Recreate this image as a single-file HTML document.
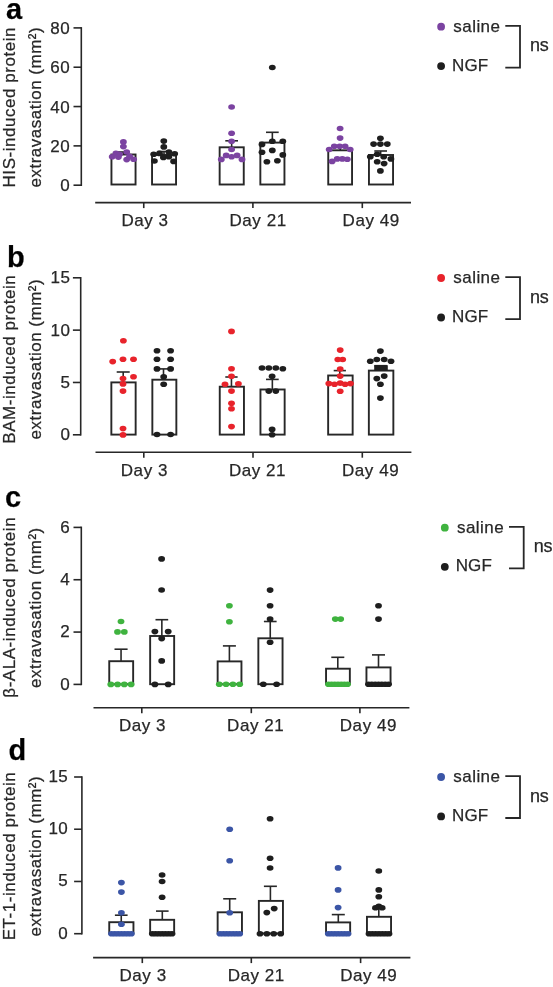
<!DOCTYPE html>
<html><head><meta charset="utf-8"><style>
html,body{margin:0;padding:0;background:#fff;overflow:hidden;}
svg{display:block;}
#w{width:553px;height:987px;will-change:transform;}
text{font-family:"Liberation Sans", sans-serif;fill:#272727;stroke:#272727;stroke-width:0.25px;}
</style></head><body><div id="w">
<svg width="553" height="987" viewBox="0 0 553 987">
<text x="6" y="18.5" font-size="29" font-weight="bold" style="fill:#000">a</text>
<text transform="translate(14.5,107.20) rotate(-90)" text-anchor="middle" font-size="17" letter-spacing="0.54">HIS-induced protein</text>
<text transform="translate(40.7,107.20) rotate(-90)" text-anchor="middle" font-size="17" letter-spacing="0.5">extravasation (mm²)</text>
<line x1="81.3" y1="27.099999999999998" x2="81.3" y2="186.0" stroke="#272727" stroke-width="1.6"/>
<line x1="73.5" y1="185.20" x2="81.3" y2="185.20" stroke="#272727" stroke-width="1.6"/>
<text x="70.00" y="191.30" text-anchor="end" font-size="17" letter-spacing="0.4">0</text>
<line x1="73.5" y1="145.88" x2="81.3" y2="145.88" stroke="#272727" stroke-width="1.6"/>
<text x="70.00" y="151.97" text-anchor="end" font-size="17" letter-spacing="0.4">20</text>
<line x1="73.5" y1="106.55" x2="81.3" y2="106.55" stroke="#272727" stroke-width="1.6"/>
<text x="70.00" y="112.65" text-anchor="end" font-size="17" letter-spacing="0.4">40</text>
<line x1="73.5" y1="67.23" x2="81.3" y2="67.23" stroke="#272727" stroke-width="1.6"/>
<text x="70.00" y="73.33" text-anchor="end" font-size="17" letter-spacing="0.4">60</text>
<line x1="73.5" y1="27.90" x2="81.3" y2="27.90" stroke="#272727" stroke-width="1.6"/>
<text x="70.00" y="34.00" text-anchor="end" font-size="17" letter-spacing="0.4">80</text>
<line x1="95.2" y1="202.6" x2="411" y2="202.6" stroke="#272727" stroke-width="1.6"/>
<line x1="143.75" y1="202.6" x2="143.75" y2="208.1" stroke="#272727" stroke-width="1.6"/>
<text x="121.4" y="226.2" font-size="17" letter-spacing="0.55">Day 3</text>
<line x1="252.9" y1="202.6" x2="252.9" y2="208.1" stroke="#272727" stroke-width="1.6"/>
<text x="229.5" y="226.2" font-size="17" letter-spacing="0.55">Day 21</text>
<line x1="362.3" y1="202.6" x2="362.3" y2="208.1" stroke="#272727" stroke-width="1.6"/>
<text x="342.6" y="226.2" font-size="17" letter-spacing="0.55">Day 49</text>
<line x1="123.50" y1="154.5" x2="123.50" y2="152.0" stroke="#272727" stroke-width="1.6"/>
<line x1="117.0" y1="152.0" x2="130.0" y2="152.0" stroke="#272727" stroke-width="1.6"/>
<rect x="111.45" y="154.50" width="24.10" height="30.00" fill="none" stroke="#272727" stroke-width="1.9"/>
<line x1="164.00" y1="154.8" x2="164.00" y2="151.5" stroke="#272727" stroke-width="1.6"/>
<line x1="157.5" y1="151.5" x2="170.5" y2="151.5" stroke="#272727" stroke-width="1.6"/>
<rect x="152.05" y="154.80" width="24.00" height="29.70" fill="none" stroke="#272727" stroke-width="1.9"/>
<line x1="231.65" y1="147.3" x2="231.65" y2="140.8" stroke="#272727" stroke-width="1.6"/>
<line x1="225.3" y1="140.8" x2="238.0" y2="140.8" stroke="#272727" stroke-width="1.6"/>
<rect x="219.65" y="147.30" width="24.10" height="37.20" fill="none" stroke="#272727" stroke-width="1.9"/>
<line x1="272.35" y1="142.6" x2="272.35" y2="132.3" stroke="#272727" stroke-width="1.6"/>
<line x1="266.0" y1="132.3" x2="278.7" y2="132.3" stroke="#272727" stroke-width="1.6"/>
<rect x="260.35" y="142.60" width="24.10" height="41.90" fill="none" stroke="#272727" stroke-width="1.9"/>
<line x1="340.25" y1="150.3" x2="340.25" y2="146.0" stroke="#272727" stroke-width="1.6"/>
<line x1="334.0" y1="146.0" x2="346.5" y2="146.0" stroke="#272727" stroke-width="1.6"/>
<rect x="328.25" y="150.30" width="23.80" height="34.20" fill="none" stroke="#272727" stroke-width="1.9"/>
<line x1="380.65" y1="155.0" x2="380.65" y2="151.0" stroke="#272727" stroke-width="1.6"/>
<line x1="374.3" y1="151.0" x2="387.0" y2="151.0" stroke="#272727" stroke-width="1.6"/>
<rect x="368.95" y="155.00" width="24.10" height="29.50" fill="none" stroke="#272727" stroke-width="1.9"/>
<ellipse cx="123.4" cy="141.9" rx="3.4" ry="2.8" fill="#7b43a1"/>
<ellipse cx="123.4" cy="146.6" rx="3.4" ry="2.8" fill="#7b43a1"/>
<ellipse cx="126.7" cy="152.0" rx="3.4" ry="2.8" fill="#7b43a1"/>
<ellipse cx="115.9" cy="153.4" rx="3.4" ry="2.8" fill="#7b43a1"/>
<ellipse cx="119.5" cy="154.2" rx="3.4" ry="2.8" fill="#7b43a1"/>
<ellipse cx="112.2" cy="156.7" rx="3.4" ry="2.8" fill="#7b43a1"/>
<ellipse cx="118.4" cy="157.1" rx="3.4" ry="2.8" fill="#7b43a1"/>
<ellipse cx="126.7" cy="159.6" rx="3.4" ry="2.8" fill="#7b43a1"/>
<ellipse cx="129.6" cy="156.3" rx="3.4" ry="2.8" fill="#7b43a1"/>
<ellipse cx="133.6" cy="159.2" rx="3.4" ry="2.8" fill="#7b43a1"/>
<ellipse cx="163.8" cy="141.1" rx="3.4" ry="2.8" fill="#1e1e1e"/>
<ellipse cx="163.8" cy="146.9" rx="3.4" ry="2.8" fill="#1e1e1e"/>
<ellipse cx="153.7" cy="154.2" rx="3.4" ry="2.8" fill="#1e1e1e"/>
<ellipse cx="159.5" cy="153.4" rx="3.4" ry="2.8" fill="#1e1e1e"/>
<ellipse cx="168.9" cy="152.0" rx="3.4" ry="2.8" fill="#1e1e1e"/>
<ellipse cx="174.7" cy="153.8" rx="3.4" ry="2.8" fill="#1e1e1e"/>
<ellipse cx="163.4" cy="157.4" rx="3.4" ry="2.8" fill="#1e1e1e"/>
<ellipse cx="168.9" cy="156.7" rx="3.4" ry="2.8" fill="#1e1e1e"/>
<ellipse cx="154.4" cy="161.0" rx="3.4" ry="2.8" fill="#1e1e1e"/>
<ellipse cx="173.6" cy="161.4" rx="3.4" ry="2.8" fill="#1e1e1e"/>
<ellipse cx="231.6" cy="107.0" rx="3.4" ry="2.8" fill="#7b43a1"/>
<ellipse cx="231.6" cy="133.2" rx="3.4" ry="2.8" fill="#7b43a1"/>
<ellipse cx="231.6" cy="141.3" rx="3.4" ry="2.8" fill="#7b43a1"/>
<ellipse cx="231.6" cy="149.5" rx="3.4" ry="2.8" fill="#7b43a1"/>
<ellipse cx="226.2" cy="155.4" rx="3.4" ry="2.8" fill="#7b43a1"/>
<ellipse cx="231.6" cy="156.7" rx="3.4" ry="2.8" fill="#7b43a1"/>
<ellipse cx="237.1" cy="155.4" rx="3.4" ry="2.8" fill="#7b43a1"/>
<ellipse cx="221.3" cy="159.4" rx="3.4" ry="2.8" fill="#7b43a1"/>
<ellipse cx="242.0" cy="159.4" rx="3.4" ry="2.8" fill="#7b43a1"/>
<ellipse cx="272.3" cy="67.5" rx="3.4" ry="2.8" fill="#1e1e1e"/>
<ellipse cx="272.3" cy="141.3" rx="3.4" ry="2.8" fill="#1e1e1e"/>
<ellipse cx="282.8" cy="141.3" rx="3.4" ry="2.8" fill="#1e1e1e"/>
<ellipse cx="262.0" cy="144.4" rx="3.4" ry="2.8" fill="#1e1e1e"/>
<ellipse cx="272.3" cy="150.4" rx="3.4" ry="2.8" fill="#1e1e1e"/>
<ellipse cx="262.0" cy="152.2" rx="3.4" ry="2.8" fill="#1e1e1e"/>
<ellipse cx="282.8" cy="154.9" rx="3.4" ry="2.8" fill="#1e1e1e"/>
<ellipse cx="266.9" cy="161.8" rx="3.4" ry="2.8" fill="#1e1e1e"/>
<ellipse cx="277.4" cy="160.7" rx="3.4" ry="2.8" fill="#1e1e1e"/>
<ellipse cx="340.1" cy="128.5" rx="3.4" ry="2.8" fill="#7b43a1"/>
<ellipse cx="340.1" cy="138.1" rx="3.4" ry="2.8" fill="#7b43a1"/>
<ellipse cx="334.3" cy="146.2" rx="3.4" ry="2.8" fill="#7b43a1"/>
<ellipse cx="339.7" cy="146.2" rx="3.4" ry="2.8" fill="#7b43a1"/>
<ellipse cx="345.1" cy="146.2" rx="3.4" ry="2.8" fill="#7b43a1"/>
<ellipse cx="329.2" cy="149.5" rx="3.4" ry="2.8" fill="#7b43a1"/>
<ellipse cx="350.2" cy="149.5" rx="3.4" ry="2.8" fill="#7b43a1"/>
<ellipse cx="332.1" cy="161.4" rx="3.4" ry="2.8" fill="#7b43a1"/>
<ellipse cx="337.2" cy="158.9" rx="3.4" ry="2.8" fill="#7b43a1"/>
<ellipse cx="342.3" cy="158.9" rx="3.4" ry="2.8" fill="#7b43a1"/>
<ellipse cx="347.3" cy="159.3" rx="3.4" ry="2.8" fill="#7b43a1"/>
<ellipse cx="380.4" cy="138.3" rx="3.4" ry="2.8" fill="#1e1e1e"/>
<ellipse cx="373.6" cy="144.1" rx="3.4" ry="2.8" fill="#1e1e1e"/>
<ellipse cx="380.4" cy="144.1" rx="3.4" ry="2.8" fill="#1e1e1e"/>
<ellipse cx="387.3" cy="144.1" rx="3.4" ry="2.8" fill="#1e1e1e"/>
<ellipse cx="377.2" cy="154.2" rx="3.4" ry="2.8" fill="#1e1e1e"/>
<ellipse cx="370.3" cy="156.8" rx="3.4" ry="2.8" fill="#1e1e1e"/>
<ellipse cx="383.7" cy="156.8" rx="3.4" ry="2.8" fill="#1e1e1e"/>
<ellipse cx="390.9" cy="158.9" rx="3.4" ry="2.8" fill="#1e1e1e"/>
<ellipse cx="377.2" cy="161.8" rx="3.4" ry="2.8" fill="#1e1e1e"/>
<ellipse cx="384.1" cy="163.6" rx="3.4" ry="2.8" fill="#1e1e1e"/>
<ellipse cx="380.4" cy="170.9" rx="3.4" ry="2.8" fill="#1e1e1e"/>
<circle cx="441.1" cy="26.7" r="3.9" fill="#7b43a1"/>
<circle cx="441.1" cy="66.1" r="3.9" fill="#1e1e1e"/>
<text x="453.3" y="31.5" font-size="17" letter-spacing="0.45">saline</text>
<text x="452.0" y="70.5" font-size="17" letter-spacing="0.1">NGF</text>
<path d="M505.3 25.8 H520.0 V67.69999999999999 H505.3" fill="none" stroke="#272727" stroke-width="1.8"/>
<text x="530.0" y="51.3" font-size="18" letter-spacing="-0.2">ns</text>
<text x="7" y="266.5" font-size="29" font-weight="bold" style="fill:#000">b</text>
<text transform="translate(14.5,359.15) rotate(-90)" text-anchor="middle" font-size="17" letter-spacing="0.54">BAM-induced protein</text>
<text transform="translate(40.7,359.15) rotate(-90)" text-anchor="middle" font-size="17" letter-spacing="0.5">extravasation (mm²)</text>
<line x1="80.7" y1="277.0" x2="80.7" y2="435.6" stroke="#272727" stroke-width="1.6"/>
<line x1="72.9" y1="434.80" x2="80.7" y2="434.80" stroke="#272727" stroke-width="1.6"/>
<text x="70.30" y="440.30" text-anchor="end" font-size="17" letter-spacing="0.4">0</text>
<line x1="72.9" y1="382.47" x2="80.7" y2="382.47" stroke="#272727" stroke-width="1.6"/>
<text x="70.30" y="387.97" text-anchor="end" font-size="17" letter-spacing="0.4">5</text>
<line x1="72.9" y1="330.13" x2="80.7" y2="330.13" stroke="#272727" stroke-width="1.6"/>
<text x="70.30" y="335.63" text-anchor="end" font-size="17" letter-spacing="0.4">10</text>
<line x1="72.9" y1="277.80" x2="80.7" y2="277.80" stroke="#272727" stroke-width="1.6"/>
<text x="70.30" y="283.30" text-anchor="end" font-size="17" letter-spacing="0.4">15</text>
<line x1="95.5" y1="452.2" x2="411.4" y2="452.2" stroke="#272727" stroke-width="1.6"/>
<line x1="143.8" y1="452.2" x2="143.8" y2="457.7" stroke="#272727" stroke-width="1.6"/>
<text x="120.8" y="475.8" font-size="17" letter-spacing="0.55">Day 3</text>
<line x1="253" y1="452.2" x2="253" y2="457.7" stroke="#272727" stroke-width="1.6"/>
<text x="228.9" y="475.8" font-size="17" letter-spacing="0.55">Day 21</text>
<line x1="362.3" y1="452.2" x2="362.3" y2="457.7" stroke="#272727" stroke-width="1.6"/>
<text x="342.0" y="475.8" font-size="17" letter-spacing="0.55">Day 49</text>
<line x1="123.20" y1="382.4" x2="123.20" y2="372.0" stroke="#272727" stroke-width="1.6"/>
<line x1="116.7" y1="372.0" x2="129.7" y2="372.0" stroke="#272727" stroke-width="1.6"/>
<rect x="111.35" y="382.40" width="24.30" height="52.20" fill="none" stroke="#272727" stroke-width="1.9"/>
<line x1="163.50" y1="379.7" x2="163.50" y2="368.9" stroke="#272727" stroke-width="1.6"/>
<line x1="157.0" y1="368.9" x2="170.0" y2="368.9" stroke="#272727" stroke-width="1.6"/>
<rect x="152.35" y="379.70" width="24.00" height="54.90" fill="none" stroke="#272727" stroke-width="1.9"/>
<line x1="231.45" y1="386.7" x2="231.45" y2="377.0" stroke="#272727" stroke-width="1.6"/>
<line x1="225.3" y1="377.0" x2="237.6" y2="377.0" stroke="#272727" stroke-width="1.6"/>
<rect x="219.75" y="386.70" width="24.20" height="47.90" fill="none" stroke="#272727" stroke-width="1.9"/>
<line x1="272.35" y1="389.5" x2="272.35" y2="379.4" stroke="#272727" stroke-width="1.6"/>
<line x1="266.0" y1="379.4" x2="278.7" y2="379.4" stroke="#272727" stroke-width="1.6"/>
<rect x="260.45" y="389.50" width="24.20" height="45.10" fill="none" stroke="#272727" stroke-width="1.9"/>
<line x1="339.80" y1="375.5" x2="339.80" y2="370.6" stroke="#272727" stroke-width="1.6"/>
<line x1="333.7" y1="370.6" x2="345.9" y2="370.6" stroke="#272727" stroke-width="1.6"/>
<rect x="328.15" y="375.50" width="24.50" height="59.10" fill="none" stroke="#272727" stroke-width="1.9"/>
<line x1="380.65" y1="370.6" x2="380.65" y2="365.7" stroke="#272727" stroke-width="1.6"/>
<line x1="374.4" y1="365.7" x2="386.9" y2="365.7" stroke="#272727" stroke-width="1.6"/>
<rect x="368.85" y="370.60" width="24.50" height="64.00" fill="none" stroke="#272727" stroke-width="1.9"/>
<ellipse cx="123.4" cy="340.8" rx="3.4" ry="2.8" fill="#e8232b"/>
<ellipse cx="112.7" cy="361.6" rx="3.4" ry="2.8" fill="#e8232b"/>
<ellipse cx="123.0" cy="359.3" rx="3.4" ry="2.8" fill="#e8232b"/>
<ellipse cx="133.5" cy="359.3" rx="3.4" ry="2.8" fill="#e8232b"/>
<ellipse cx="133.5" cy="376.7" rx="3.4" ry="2.8" fill="#e8232b"/>
<ellipse cx="123.0" cy="378.5" rx="3.4" ry="2.8" fill="#e8232b"/>
<ellipse cx="123.0" cy="383.9" rx="3.4" ry="2.8" fill="#e8232b"/>
<ellipse cx="123.0" cy="391.1" rx="3.4" ry="2.8" fill="#e8232b"/>
<ellipse cx="123.0" cy="428.6" rx="3.4" ry="2.8" fill="#e8232b"/>
<ellipse cx="123.0" cy="434.9" rx="3.4" ry="2.8" fill="#e8232b"/>
<ellipse cx="157.0" cy="350.8" rx="3.4" ry="2.8" fill="#1e1e1e"/>
<ellipse cx="170.6" cy="350.8" rx="3.4" ry="2.8" fill="#1e1e1e"/>
<ellipse cx="157.0" cy="359.3" rx="3.4" ry="2.8" fill="#1e1e1e"/>
<ellipse cx="170.6" cy="359.3" rx="3.4" ry="2.8" fill="#1e1e1e"/>
<ellipse cx="157.0" cy="368.9" rx="3.4" ry="2.8" fill="#1e1e1e"/>
<ellipse cx="170.6" cy="368.9" rx="3.4" ry="2.8" fill="#1e1e1e"/>
<ellipse cx="163.7" cy="376.7" rx="3.4" ry="2.8" fill="#1e1e1e"/>
<ellipse cx="163.7" cy="384.2" rx="3.4" ry="2.8" fill="#1e1e1e"/>
<ellipse cx="157.0" cy="434.5" rx="3.4" ry="2.8" fill="#1e1e1e"/>
<ellipse cx="170.6" cy="434.5" rx="3.4" ry="2.8" fill="#1e1e1e"/>
<ellipse cx="231.5" cy="331.4" rx="3.4" ry="2.8" fill="#e8232b"/>
<ellipse cx="231.5" cy="368.8" rx="3.4" ry="2.8" fill="#e8232b"/>
<ellipse cx="231.5" cy="376.2" rx="3.4" ry="2.8" fill="#e8232b"/>
<ellipse cx="225.0" cy="384.3" rx="3.4" ry="2.8" fill="#e8232b"/>
<ellipse cx="238.4" cy="383.8" rx="3.4" ry="2.8" fill="#e8232b"/>
<ellipse cx="231.5" cy="391.1" rx="3.4" ry="2.8" fill="#e8232b"/>
<ellipse cx="231.5" cy="403.3" rx="3.4" ry="2.8" fill="#e8232b"/>
<ellipse cx="231.5" cy="408.7" rx="3.4" ry="2.8" fill="#e8232b"/>
<ellipse cx="231.5" cy="426.6" rx="3.4" ry="2.8" fill="#e8232b"/>
<ellipse cx="262.0" cy="368.0" rx="3.4" ry="2.8" fill="#1e1e1e"/>
<ellipse cx="268.8" cy="368.0" rx="3.4" ry="2.8" fill="#1e1e1e"/>
<ellipse cx="275.8" cy="368.0" rx="3.4" ry="2.8" fill="#1e1e1e"/>
<ellipse cx="282.8" cy="368.8" rx="3.4" ry="2.8" fill="#1e1e1e"/>
<ellipse cx="272.1" cy="376.2" rx="3.4" ry="2.8" fill="#1e1e1e"/>
<ellipse cx="268.8" cy="391.1" rx="3.4" ry="2.8" fill="#1e1e1e"/>
<ellipse cx="275.8" cy="391.1" rx="3.4" ry="2.8" fill="#1e1e1e"/>
<ellipse cx="272.1" cy="429.4" rx="3.4" ry="2.8" fill="#1e1e1e"/>
<ellipse cx="272.1" cy="434.7" rx="3.4" ry="2.8" fill="#1e1e1e"/>
<ellipse cx="340.2" cy="350.1" rx="3.4" ry="2.8" fill="#e8232b"/>
<ellipse cx="337.8" cy="359.5" rx="3.4" ry="2.8" fill="#e8232b"/>
<ellipse cx="342.7" cy="359.5" rx="3.4" ry="2.8" fill="#e8232b"/>
<ellipse cx="340.2" cy="369.0" rx="3.4" ry="2.8" fill="#e8232b"/>
<ellipse cx="340.2" cy="376.1" rx="3.4" ry="2.8" fill="#e8232b"/>
<ellipse cx="328.8" cy="383.6" rx="3.4" ry="2.8" fill="#e8232b"/>
<ellipse cx="334.5" cy="384.3" rx="3.4" ry="2.8" fill="#e8232b"/>
<ellipse cx="340.2" cy="383.1" rx="3.4" ry="2.8" fill="#e8232b"/>
<ellipse cx="345.1" cy="384.3" rx="3.4" ry="2.8" fill="#e8232b"/>
<ellipse cx="350.5" cy="383.6" rx="3.4" ry="2.8" fill="#e8232b"/>
<ellipse cx="340.2" cy="391.3" rx="3.4" ry="2.8" fill="#e8232b"/>
<ellipse cx="380.4" cy="351.1" rx="3.4" ry="2.8" fill="#1e1e1e"/>
<ellipse cx="370.3" cy="361.2" rx="3.4" ry="2.8" fill="#1e1e1e"/>
<ellipse cx="376.8" cy="359.5" rx="3.4" ry="2.8" fill="#1e1e1e"/>
<ellipse cx="384.2" cy="359.5" rx="3.4" ry="2.8" fill="#1e1e1e"/>
<ellipse cx="391.0" cy="361.2" rx="3.4" ry="2.8" fill="#1e1e1e"/>
<ellipse cx="376.8" cy="378.6" rx="3.4" ry="2.8" fill="#1e1e1e"/>
<ellipse cx="384.2" cy="376.1" rx="3.4" ry="2.8" fill="#1e1e1e"/>
<ellipse cx="380.4" cy="384.3" rx="3.4" ry="2.8" fill="#1e1e1e"/>
<ellipse cx="380.4" cy="398.1" rx="3.4" ry="2.8" fill="#1e1e1e"/>
<rect x="374.2" y="365.2" width="13.6" height="5.4" fill="#1e1e1e"/>
<circle cx="441.1" cy="278.0" r="3.9" fill="#e8232b"/>
<circle cx="441.1" cy="317.5" r="3.9" fill="#1e1e1e"/>
<text x="453.3" y="282.8" font-size="17" letter-spacing="0.45">saline</text>
<text x="452.0" y="321.9" font-size="17" letter-spacing="0.1">NGF</text>
<path d="M505.3 277.1 H520.0 V319.1 H505.3" fill="none" stroke="#272727" stroke-width="1.8"/>
<text x="530.0" y="302.6" font-size="18" letter-spacing="-0.2">ns</text>
<text x="5" y="506.5" font-size="29" font-weight="bold" style="fill:#000">c</text>
<text transform="translate(14.5,607.25) rotate(-90)" text-anchor="middle" font-size="17" letter-spacing="0.54">β-ALA-induced protein</text>
<text transform="translate(40.7,607.60) rotate(-90)" text-anchor="middle" font-size="17" letter-spacing="0.5">extravasation (mm²)</text>
<line x1="81.3" y1="526.6" x2="81.3" y2="685.1999999999999" stroke="#272727" stroke-width="1.6"/>
<line x1="73.5" y1="684.40" x2="81.3" y2="684.40" stroke="#272727" stroke-width="1.6"/>
<text x="70.00" y="689.70" text-anchor="end" font-size="17" letter-spacing="0.4">0</text>
<line x1="73.5" y1="632.07" x2="81.3" y2="632.07" stroke="#272727" stroke-width="1.6"/>
<text x="70.00" y="637.37" text-anchor="end" font-size="17" letter-spacing="0.4">2</text>
<line x1="73.5" y1="579.73" x2="81.3" y2="579.73" stroke="#272727" stroke-width="1.6"/>
<text x="70.00" y="585.03" text-anchor="end" font-size="17" letter-spacing="0.4">4</text>
<line x1="73.5" y1="527.40" x2="81.3" y2="527.40" stroke="#272727" stroke-width="1.6"/>
<text x="70.00" y="532.70" text-anchor="end" font-size="17" letter-spacing="0.4">6</text>
<line x1="93.5" y1="707.7" x2="409.4" y2="707.7" stroke="#272727" stroke-width="1.6"/>
<line x1="141.8" y1="707.7" x2="141.8" y2="713.2" stroke="#272727" stroke-width="1.6"/>
<text x="118.9" y="731.3000000000001" font-size="17" letter-spacing="0.55">Day 3</text>
<line x1="251.3" y1="707.7" x2="251.3" y2="713.2" stroke="#272727" stroke-width="1.6"/>
<text x="227.1" y="731.3000000000001" font-size="17" letter-spacing="0.55">Day 21</text>
<line x1="359.9" y1="707.7" x2="359.9" y2="713.2" stroke="#272727" stroke-width="1.6"/>
<text x="339.8" y="731.3000000000001" font-size="17" letter-spacing="0.55">Day 49</text>
<line x1="121.05" y1="661.2" x2="121.05" y2="649.2" stroke="#272727" stroke-width="1.6"/>
<line x1="114.5" y1="649.2" x2="127.6" y2="649.2" stroke="#272727" stroke-width="1.6"/>
<rect x="109.25" y="661.20" width="23.90" height="23.00" fill="none" stroke="#272727" stroke-width="1.9"/>
<line x1="161.85" y1="636.0" x2="161.85" y2="619.7" stroke="#272727" stroke-width="1.6"/>
<line x1="155.5" y1="619.7" x2="168.2" y2="619.7" stroke="#272727" stroke-width="1.6"/>
<rect x="150.15" y="636.00" width="24.00" height="48.20" fill="none" stroke="#272727" stroke-width="1.9"/>
<line x1="229.40" y1="661.4" x2="229.40" y2="645.9" stroke="#272727" stroke-width="1.6"/>
<line x1="222.9" y1="645.9" x2="235.9" y2="645.9" stroke="#272727" stroke-width="1.6"/>
<rect x="217.65" y="661.40" width="23.80" height="22.80" fill="none" stroke="#272727" stroke-width="1.9"/>
<line x1="270.25" y1="638.3" x2="270.25" y2="621.5" stroke="#272727" stroke-width="1.6"/>
<line x1="263.9" y1="621.5" x2="276.6" y2="621.5" stroke="#272727" stroke-width="1.6"/>
<rect x="258.35" y="638.30" width="24.20" height="45.90" fill="none" stroke="#272727" stroke-width="1.9"/>
<line x1="337.80" y1="668.7" x2="337.80" y2="657.3" stroke="#272727" stroke-width="1.6"/>
<line x1="331.3" y1="657.3" x2="344.3" y2="657.3" stroke="#272727" stroke-width="1.6"/>
<rect x="326.05" y="668.70" width="23.80" height="15.50" fill="none" stroke="#272727" stroke-width="1.9"/>
<line x1="378.50" y1="667.4" x2="378.50" y2="654.9" stroke="#272727" stroke-width="1.6"/>
<line x1="372.0" y1="654.9" x2="385.0" y2="654.9" stroke="#272727" stroke-width="1.6"/>
<rect x="366.45" y="667.40" width="24.10" height="16.80" fill="none" stroke="#272727" stroke-width="1.9"/>
<ellipse cx="121.0" cy="621.5" rx="3.4" ry="2.8" fill="#3fb33f"/>
<ellipse cx="117.5" cy="631.9" rx="3.4" ry="2.8" fill="#3fb33f"/>
<ellipse cx="124.3" cy="631.9" rx="3.4" ry="2.8" fill="#3fb33f"/>
<ellipse cx="110.8" cy="684.4" rx="3.4" ry="2.8" fill="#3fb33f"/>
<ellipse cx="117.6" cy="684.4" rx="3.4" ry="2.8" fill="#3fb33f"/>
<ellipse cx="124.3" cy="684.4" rx="3.4" ry="2.8" fill="#3fb33f"/>
<ellipse cx="131.1" cy="684.4" rx="3.4" ry="2.8" fill="#3fb33f"/>
<ellipse cx="161.6" cy="558.9" rx="3.4" ry="2.8" fill="#1e1e1e"/>
<ellipse cx="161.6" cy="590.0" rx="3.4" ry="2.8" fill="#1e1e1e"/>
<ellipse cx="154.9" cy="631.6" rx="3.4" ry="2.8" fill="#1e1e1e"/>
<ellipse cx="168.2" cy="631.6" rx="3.4" ry="2.8" fill="#1e1e1e"/>
<ellipse cx="161.7" cy="638.6" rx="3.4" ry="2.8" fill="#1e1e1e"/>
<ellipse cx="161.7" cy="660.9" rx="3.4" ry="2.8" fill="#1e1e1e"/>
<ellipse cx="154.9" cy="684.4" rx="3.4" ry="2.8" fill="#1e1e1e"/>
<ellipse cx="168.2" cy="684.4" rx="3.4" ry="2.8" fill="#1e1e1e"/>
<ellipse cx="229.4" cy="605.7" rx="3.4" ry="2.8" fill="#3fb33f"/>
<ellipse cx="229.4" cy="621.8" rx="3.4" ry="2.8" fill="#3fb33f"/>
<ellipse cx="219.3" cy="684.2" rx="3.4" ry="2.8" fill="#3fb33f"/>
<ellipse cx="226.1" cy="684.2" rx="3.4" ry="2.8" fill="#3fb33f"/>
<ellipse cx="232.9" cy="684.2" rx="3.4" ry="2.8" fill="#3fb33f"/>
<ellipse cx="239.7" cy="684.2" rx="3.4" ry="2.8" fill="#3fb33f"/>
<ellipse cx="270.1" cy="590.1" rx="3.4" ry="2.8" fill="#1e1e1e"/>
<ellipse cx="270.1" cy="605.7" rx="3.4" ry="2.8" fill="#1e1e1e"/>
<ellipse cx="270.1" cy="619.1" rx="3.4" ry="2.8" fill="#1e1e1e"/>
<ellipse cx="270.1" cy="642.3" rx="3.4" ry="2.8" fill="#1e1e1e"/>
<ellipse cx="263.3" cy="684.2" rx="3.4" ry="2.8" fill="#1e1e1e"/>
<ellipse cx="276.6" cy="684.2" rx="3.4" ry="2.8" fill="#1e1e1e"/>
<ellipse cx="335.3" cy="619.1" rx="3.4" ry="2.8" fill="#3fb33f"/>
<ellipse cx="340.7" cy="619.1" rx="3.4" ry="2.8" fill="#3fb33f"/>
<ellipse cx="328.5" cy="684.2" rx="3.4" ry="2.8" fill="#3fb33f"/>
<ellipse cx="331.7" cy="684.2" rx="3.4" ry="2.8" fill="#3fb33f"/>
<ellipse cx="334.8" cy="684.2" rx="3.4" ry="2.8" fill="#3fb33f"/>
<ellipse cx="338.0" cy="684.2" rx="3.4" ry="2.8" fill="#3fb33f"/>
<ellipse cx="341.2" cy="684.2" rx="3.4" ry="2.8" fill="#3fb33f"/>
<ellipse cx="344.3" cy="684.2" rx="3.4" ry="2.8" fill="#3fb33f"/>
<ellipse cx="347.5" cy="684.2" rx="3.4" ry="2.8" fill="#3fb33f"/>
<ellipse cx="378.5" cy="605.7" rx="3.4" ry="2.8" fill="#1e1e1e"/>
<ellipse cx="378.5" cy="619.1" rx="3.4" ry="2.8" fill="#1e1e1e"/>
<ellipse cx="368.5" cy="684.2" rx="3.4" ry="2.8" fill="#1e1e1e"/>
<ellipse cx="371.8" cy="684.2" rx="3.4" ry="2.8" fill="#1e1e1e"/>
<ellipse cx="375.2" cy="684.2" rx="3.4" ry="2.8" fill="#1e1e1e"/>
<ellipse cx="378.5" cy="684.2" rx="3.4" ry="2.8" fill="#1e1e1e"/>
<ellipse cx="381.8" cy="684.2" rx="3.4" ry="2.8" fill="#1e1e1e"/>
<ellipse cx="385.2" cy="684.2" rx="3.4" ry="2.8" fill="#1e1e1e"/>
<ellipse cx="388.5" cy="684.2" rx="3.4" ry="2.8" fill="#1e1e1e"/>
<circle cx="444.8" cy="527.7" r="3.9" fill="#3fb33f"/>
<circle cx="444.8" cy="566.8000000000001" r="3.9" fill="#1e1e1e"/>
<text x="457.0" y="532.5" font-size="17" letter-spacing="0.45">saline</text>
<text x="455.7" y="571.2" font-size="17" letter-spacing="0.1">NGF</text>
<path d="M509.0 526.8000000000001 H523.7 V568.4000000000001 H509.0" fill="none" stroke="#272727" stroke-width="1.8"/>
<text x="533.7" y="552.1" font-size="18" letter-spacing="-0.2">ns</text>
<text x="8.5" y="759.5" font-size="29" font-weight="bold" style="fill:#000">d</text>
<text transform="translate(14.5,856.05) rotate(-90)" text-anchor="middle" font-size="17" letter-spacing="0.54">ET-1-induced protein</text>
<text transform="translate(40.7,856.20) rotate(-90)" text-anchor="middle" font-size="17" letter-spacing="0.5">extravasation (mm²)</text>
<line x1="81.9" y1="776.2" x2="81.9" y2="934.5" stroke="#272727" stroke-width="1.6"/>
<line x1="74.10000000000001" y1="933.70" x2="81.9" y2="933.70" stroke="#272727" stroke-width="1.6"/>
<text x="68.20" y="938.60" text-anchor="end" font-size="17" letter-spacing="0.4">0</text>
<line x1="74.10000000000001" y1="881.47" x2="81.9" y2="881.47" stroke="#272727" stroke-width="1.6"/>
<text x="68.20" y="886.37" text-anchor="end" font-size="17" letter-spacing="0.4">5</text>
<line x1="74.10000000000001" y1="829.23" x2="81.9" y2="829.23" stroke="#272727" stroke-width="1.6"/>
<text x="68.20" y="834.13" text-anchor="end" font-size="17" letter-spacing="0.4">10</text>
<line x1="74.10000000000001" y1="777.00" x2="81.9" y2="777.00" stroke="#272727" stroke-width="1.6"/>
<text x="68.20" y="781.90" text-anchor="end" font-size="17" letter-spacing="0.4">15</text>
<line x1="93.1" y1="957.6" x2="410.4" y2="957.6" stroke="#272727" stroke-width="1.6"/>
<line x1="142.3" y1="957.6" x2="142.3" y2="963.1" stroke="#272727" stroke-width="1.6"/>
<text x="119.5" y="981.2" font-size="17" letter-spacing="0.55">Day 3</text>
<line x1="251.3" y1="957.6" x2="251.3" y2="963.1" stroke="#272727" stroke-width="1.6"/>
<text x="227.7" y="981.2" font-size="17" letter-spacing="0.55">Day 21</text>
<line x1="360.6" y1="957.6" x2="360.6" y2="963.1" stroke="#272727" stroke-width="1.6"/>
<text x="340.2" y="981.2" font-size="17" letter-spacing="0.55">Day 49</text>
<line x1="121.25" y1="922.2" x2="121.25" y2="915.2" stroke="#272727" stroke-width="1.6"/>
<line x1="114.9" y1="915.2" x2="127.6" y2="915.2" stroke="#272727" stroke-width="1.6"/>
<rect x="109.25" y="922.20" width="24.20" height="11.30" fill="none" stroke="#272727" stroke-width="1.9"/>
<line x1="162.30" y1="919.8" x2="162.30" y2="911.1" stroke="#272727" stroke-width="1.6"/>
<line x1="156.0" y1="911.1" x2="168.6" y2="911.1" stroke="#272727" stroke-width="1.6"/>
<rect x="150.15" y="919.80" width="24.00" height="13.70" fill="none" stroke="#272727" stroke-width="1.9"/>
<line x1="229.70" y1="912.3" x2="229.70" y2="898.8" stroke="#272727" stroke-width="1.6"/>
<line x1="223.2" y1="898.8" x2="236.2" y2="898.8" stroke="#272727" stroke-width="1.6"/>
<rect x="217.65" y="912.30" width="24.30" height="21.20" fill="none" stroke="#272727" stroke-width="1.9"/>
<line x1="270.40" y1="900.9" x2="270.40" y2="886.3" stroke="#272727" stroke-width="1.6"/>
<line x1="263.9" y1="886.3" x2="276.9" y2="886.3" stroke="#272727" stroke-width="1.6"/>
<rect x="258.85" y="900.90" width="24.10" height="32.60" fill="none" stroke="#272727" stroke-width="1.9"/>
<line x1="338.30" y1="922.4" x2="338.30" y2="914.6" stroke="#272727" stroke-width="1.6"/>
<line x1="331.8" y1="914.6" x2="344.8" y2="914.6" stroke="#272727" stroke-width="1.6"/>
<rect x="326.05" y="922.40" width="24.10" height="11.10" fill="none" stroke="#272727" stroke-width="1.9"/>
<line x1="378.80" y1="916.8" x2="378.80" y2="908.6" stroke="#272727" stroke-width="1.6"/>
<line x1="372.3" y1="908.6" x2="385.3" y2="908.6" stroke="#272727" stroke-width="1.6"/>
<rect x="366.95" y="916.80" width="24.10" height="16.70" fill="none" stroke="#272727" stroke-width="1.9"/>
<ellipse cx="121.4" cy="882.6" rx="3.4" ry="2.8" fill="#3b55a6"/>
<ellipse cx="121.4" cy="892.1" rx="3.4" ry="2.8" fill="#3b55a6"/>
<ellipse cx="121.4" cy="912.8" rx="3.4" ry="2.8" fill="#3b55a6"/>
<ellipse cx="121.4" cy="924.3" rx="3.4" ry="2.8" fill="#3b55a6"/>
<ellipse cx="111.5" cy="933.8" rx="3.4" ry="2.8" fill="#3b55a6"/>
<ellipse cx="114.8" cy="933.8" rx="3.4" ry="2.8" fill="#3b55a6"/>
<ellipse cx="118.1" cy="933.8" rx="3.4" ry="2.8" fill="#3b55a6"/>
<ellipse cx="121.4" cy="933.8" rx="3.4" ry="2.8" fill="#3b55a6"/>
<ellipse cx="124.7" cy="933.8" rx="3.4" ry="2.8" fill="#3b55a6"/>
<ellipse cx="128.0" cy="933.8" rx="3.4" ry="2.8" fill="#3b55a6"/>
<ellipse cx="131.3" cy="933.8" rx="3.4" ry="2.8" fill="#3b55a6"/>
<ellipse cx="162.1" cy="875.0" rx="3.4" ry="2.8" fill="#1e1e1e"/>
<ellipse cx="162.1" cy="881.5" rx="3.4" ry="2.8" fill="#1e1e1e"/>
<ellipse cx="162.1" cy="897.3" rx="3.4" ry="2.8" fill="#1e1e1e"/>
<ellipse cx="152.3" cy="933.8" rx="3.4" ry="2.8" fill="#1e1e1e"/>
<ellipse cx="155.6" cy="933.8" rx="3.4" ry="2.8" fill="#1e1e1e"/>
<ellipse cx="158.9" cy="933.8" rx="3.4" ry="2.8" fill="#1e1e1e"/>
<ellipse cx="162.2" cy="933.8" rx="3.4" ry="2.8" fill="#1e1e1e"/>
<ellipse cx="165.4" cy="933.8" rx="3.4" ry="2.8" fill="#1e1e1e"/>
<ellipse cx="168.7" cy="933.8" rx="3.4" ry="2.8" fill="#1e1e1e"/>
<ellipse cx="172.0" cy="933.8" rx="3.4" ry="2.8" fill="#1e1e1e"/>
<ellipse cx="229.7" cy="829.3" rx="3.4" ry="2.8" fill="#3b55a6"/>
<ellipse cx="229.7" cy="860.7" rx="3.4" ry="2.8" fill="#3b55a6"/>
<ellipse cx="229.7" cy="912.8" rx="3.4" ry="2.8" fill="#3b55a6"/>
<ellipse cx="220.0" cy="933.8" rx="3.4" ry="2.8" fill="#3b55a6"/>
<ellipse cx="223.3" cy="933.8" rx="3.4" ry="2.8" fill="#3b55a6"/>
<ellipse cx="226.6" cy="933.8" rx="3.4" ry="2.8" fill="#3b55a6"/>
<ellipse cx="229.8" cy="933.8" rx="3.4" ry="2.8" fill="#3b55a6"/>
<ellipse cx="233.1" cy="933.8" rx="3.4" ry="2.8" fill="#3b55a6"/>
<ellipse cx="236.4" cy="933.8" rx="3.4" ry="2.8" fill="#3b55a6"/>
<ellipse cx="239.7" cy="933.8" rx="3.4" ry="2.8" fill="#3b55a6"/>
<ellipse cx="270.1" cy="818.7" rx="3.4" ry="2.8" fill="#1e1e1e"/>
<ellipse cx="270.1" cy="858.3" rx="3.4" ry="2.8" fill="#1e1e1e"/>
<ellipse cx="270.1" cy="868.0" rx="3.4" ry="2.8" fill="#1e1e1e"/>
<ellipse cx="274.2" cy="908.6" rx="3.4" ry="2.8" fill="#1e1e1e"/>
<ellipse cx="266.8" cy="912.6" rx="3.4" ry="2.8" fill="#1e1e1e"/>
<ellipse cx="260.0" cy="933.8" rx="3.4" ry="2.8" fill="#1e1e1e"/>
<ellipse cx="266.8" cy="933.8" rx="3.4" ry="2.8" fill="#1e1e1e"/>
<ellipse cx="273.7" cy="933.8" rx="3.4" ry="2.8" fill="#1e1e1e"/>
<ellipse cx="280.7" cy="933.8" rx="3.4" ry="2.8" fill="#1e1e1e"/>
<ellipse cx="338.1" cy="867.9" rx="3.4" ry="2.8" fill="#3b55a6"/>
<ellipse cx="338.1" cy="889.9" rx="3.4" ry="2.8" fill="#3b55a6"/>
<ellipse cx="338.1" cy="907.6" rx="3.4" ry="2.8" fill="#3b55a6"/>
<ellipse cx="328.3" cy="933.8" rx="3.4" ry="2.8" fill="#3b55a6"/>
<ellipse cx="331.6" cy="933.8" rx="3.4" ry="2.8" fill="#3b55a6"/>
<ellipse cx="334.9" cy="933.8" rx="3.4" ry="2.8" fill="#3b55a6"/>
<ellipse cx="338.1" cy="933.8" rx="3.4" ry="2.8" fill="#3b55a6"/>
<ellipse cx="341.4" cy="933.8" rx="3.4" ry="2.8" fill="#3b55a6"/>
<ellipse cx="344.7" cy="933.8" rx="3.4" ry="2.8" fill="#3b55a6"/>
<ellipse cx="348.0" cy="933.8" rx="3.4" ry="2.8" fill="#3b55a6"/>
<ellipse cx="378.8" cy="871.0" rx="3.4" ry="2.8" fill="#1e1e1e"/>
<ellipse cx="378.8" cy="889.9" rx="3.4" ry="2.8" fill="#1e1e1e"/>
<ellipse cx="378.8" cy="896.7" rx="3.4" ry="2.8" fill="#1e1e1e"/>
<ellipse cx="375.5" cy="907.8" rx="3.4" ry="2.8" fill="#1e1e1e"/>
<ellipse cx="378.8" cy="906.2" rx="3.4" ry="2.8" fill="#1e1e1e"/>
<ellipse cx="382.1" cy="907.8" rx="3.4" ry="2.8" fill="#1e1e1e"/>
<ellipse cx="369.0" cy="933.8" rx="3.4" ry="2.8" fill="#1e1e1e"/>
<ellipse cx="372.3" cy="933.8" rx="3.4" ry="2.8" fill="#1e1e1e"/>
<ellipse cx="375.7" cy="933.8" rx="3.4" ry="2.8" fill="#1e1e1e"/>
<ellipse cx="379.0" cy="933.8" rx="3.4" ry="2.8" fill="#1e1e1e"/>
<ellipse cx="382.3" cy="933.8" rx="3.4" ry="2.8" fill="#1e1e1e"/>
<ellipse cx="385.7" cy="933.8" rx="3.4" ry="2.8" fill="#1e1e1e"/>
<ellipse cx="389.0" cy="933.8" rx="3.4" ry="2.8" fill="#1e1e1e"/>
<circle cx="441.1" cy="777.0" r="3.9" fill="#3b55a6"/>
<circle cx="441.1" cy="816.4" r="3.9" fill="#1e1e1e"/>
<text x="453.3" y="781.8" font-size="17" letter-spacing="0.45">saline</text>
<text x="452.0" y="820.8" font-size="17" letter-spacing="0.1">NGF</text>
<path d="M505.3 776.1 H520.0 V818.0 H505.3" fill="none" stroke="#272727" stroke-width="1.8"/>
<text x="530.0" y="801.6" font-size="18" letter-spacing="-0.2">ns</text>
</svg></div>
</body></html>
